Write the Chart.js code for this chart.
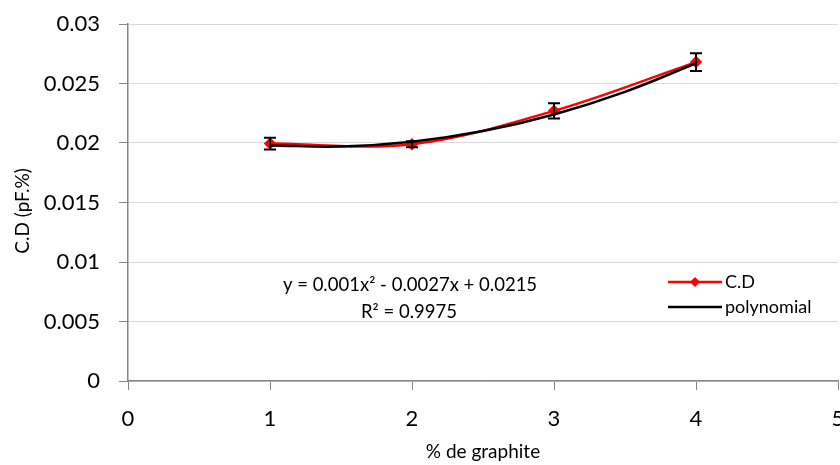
<!DOCTYPE html>
<html>
<head>
<meta charset="utf-8">
<script src="https://cdn.jsdelivr.net/npm/chart.js@4.4.0/dist/chart.umd.min.js"></script>
<style>
  html, body { margin: 0; padding: 0; background: #fff; overflow: hidden; }
  #wrap { width: 845px; height: 465px; position: relative; }
</style>
</head>
<body>
<div id="wrap"><canvas id="myChart"></canvas></div>
<script>
const graphite = [1, 2, 3, 4];
const cdValues = [0.01995, 0.0199, 0.0227, 0.0268];
const cdErrors = [0.0005, 0.00025, 0.00065, 0.00075];

// polynomial trendline
const trendX = [1, 1.5, 2, 2.5, 3, 3.5, 4];
const trendY = [0.0198, 0.0197, 0.0201, 0.0210, 0.0224, 0.0243, 0.0267];

const yTicks = [0, 0.005, 0.01, 0.015, 0.02, 0.025, 0.03];
const xTicks = [0, 1, 2, 3, 4, 5];

const fontFamily = 'Lato, "Open Sans", sans-serif';

const errorBars = {
  id: 'errorBars',
  afterDatasetsDraw(chart) {
    const { ctx, scales: { x, y } } = chart;
    ctx.save();
    ctx.strokeStyle = '#000';
    ctx.lineWidth = 2;
    graphite.forEach((g, i) => {
      const px = x.getPixelForValue(g);
      const top = y.getPixelForValue(cdValues[i] + cdErrors[i]);
      const bot = y.getPixelForValue(cdValues[i] - cdErrors[i]);
      ctx.beginPath();
      ctx.moveTo(px, top); ctx.lineTo(px, bot);
      ctx.moveTo(px - 6, top); ctx.lineTo(px + 6, top);
      ctx.moveTo(px - 6, bot); ctx.lineTo(px + 6, bot);
      ctx.stroke();
    });
    ctx.restore();
  }
};

const extras = {
  id: 'extras',
  afterDraw(chart) {
    const { ctx } = chart;
    ctx.save();
    ctx.fillStyle = '#000';
    ctx.font = '18.5px ' + fontFamily;
    ctx.textAlign = 'center';
    ctx.textBaseline = 'middle';
    ctx.fillText('y = 0.001x² - 0.0027x + 0.0215', 410, 285);
    ctx.fillText('R² = 0.9975', 409, 312);

    // y axis title, sits a little below the plot middle
    ctx.save();
    ctx.translate(23, 211);
    ctx.rotate(-Math.PI / 2);
    ctx.font = '19px ' + fontFamily;
    ctx.fillText('C.D (pF.%)', 0, 0);
    ctx.restore();

    // legend
    ctx.textAlign = 'left';
    ctx.font = '18px ' + fontFamily;
    ctx.lineWidth = 2.5;
    ctx.strokeStyle = '#ff0000';
    ctx.beginPath(); ctx.moveTo(668, 282); ctx.lineTo(722, 282); ctx.stroke();
    ctx.fillStyle = '#ff0000';
    ctx.beginPath();
    ctx.moveTo(695, 277); ctx.lineTo(700, 282); ctx.lineTo(695, 287); ctx.lineTo(690, 282);
    ctx.closePath(); ctx.fill();
    ctx.strokeStyle = '#000';
    ctx.beginPath(); ctx.moveTo(668, 307); ctx.lineTo(722, 307); ctx.stroke();
    ctx.fillStyle = '#000';
    ctx.fillText('C.D', 725, 282);
    ctx.fillText('polynomial', 725, 307);
    ctx.restore();
  }
};

const ctx = document.getElementById('myChart').getContext('2d');

const myChart = new Chart(ctx, {
  type: 'scatter',
  data: {
    datasets: [{
      label: 'C.D',
      data: graphite.map((g, i) => ({ x: g, y: cdValues[i] })),
      showLine: true,
      borderColor: '#ff0000',
      backgroundColor: '#ff0000',
      borderWidth: 2.5,
      tension: 0.35,
      pointStyle: 'rectRot',
      pointRadius: 4.5,
      order: 1
    }, {
      label: 'polynomial',
      data: trendX.map((t, i) => ({ x: t, y: trendY[i] })),
      showLine: true,
      borderColor: '#000',
      borderWidth: 2.5,
      tension: 0.4,
      pointRadius: 0,
      order: 0
    }]
  },
  options: {
    responsive: true,
    maintainAspectRatio: false,
    animation: false,
    layout: { padding: { top: 24, right: 0, left: 0, bottom: 0 } },
    plugins: {
      legend: { display: false },
      tooltip: { enabled: false }
    },
    scales: {
      x: {
        type: 'linear',
        min: 0,
        max: 5,
        afterBuildTicks: axis => { axis.ticks = xTicks.map(v => ({ value: v })); },
        afterFit: axis => { axis.height = 84; axis.paddingLeft = 0; axis.paddingRight = 0; },
        grid: { drawOnChartArea: false, tickLength: 9, tickColor: '#868686' },
        border: { color: '#868686', width: 1.5 },
        ticks: { color: '#000', font: { size: 22, family: fontFamily }, padding: 16, maxRotation: 0 },
        title: { display: true, text: '% de graphite', color: '#000', font: { size: 19, family: fontFamily }, padding: { top: 0, bottom: 2 } }
      },
      y: {
        min: 0,
        max: 0.03,
        afterBuildTicks: axis => { axis.ticks = yTicks.map(v => ({ value: v })); },
        afterFit: axis => { axis.width = 128; axis.paddingTop = 0; axis.paddingBottom = 0; },
        grid: { color: '#d9d9d9', tickLength: 9, tickColor: '#868686' },
        border: { color: '#868686', width: 1.5 },
        ticks: {
          color: '#000',
          font: { size: 22, family: fontFamily },
          padding: 19,
          callback: v => String(+v.toFixed(3))
        },
        title: { display: false }
      }
    }
  },
  plugins: [errorBars, extras]
});
</script>
</body>
</html>
